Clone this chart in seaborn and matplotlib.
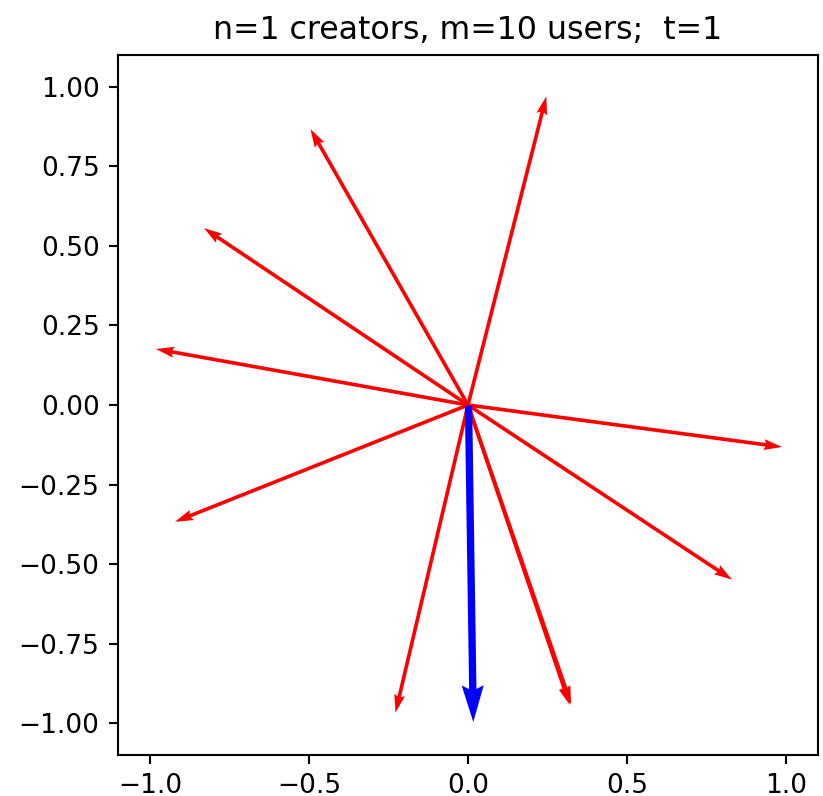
import matplotlib
matplotlib.use("Agg")
import matplotlib.pyplot as plt
import seaborn as sns
import pandas as pd

# user preference vectors (red) and the single creator vector (blue)
user_x = [0.246, -0.495, -0.830, -0.981, 0.987, -0.921, 0.830, -0.228, 0.320, 0.324]
user_y = [0.970, 0.867, 0.556, 0.176, -0.132, -0.367, -0.549, -0.967, -0.943, -0.940]
creator_x = [0.015]
creator_y = [-0.995]

title = "n=1 creators, m=10 users;  t=1"

sns.set_style("ticks", {
    "axes.edgecolor": "black",
    "xtick.color": "black",
    "ytick.color": "black",
    "text.color": "black",
    "axes.labelcolor": "black",
    "axes.spines.top": True,
    "axes.spines.right": True,
})
plt.rcParams["font.family"] = ["DejaVu Sans"]
plt.rcParams["font.size"] = 10
plt.rcParams["axes.titlesize"] = 12

users = pd.DataFrame({"x": user_x, "y": user_y})
creators = pd.DataFrame({"x": creator_x, "y": creator_y})

dpi = 190
fig = plt.figure(figsize=(823 / dpi, 796 / dpi), dpi=dpi)
ax = fig.add_axes([118 / 823, 1 - 755 / 796, 700 / 823, 700 / 796])

ax.quiver([0] * len(users), [0] * len(users), users["x"], users["y"],
          angles="xy", scale_units="xy", scale=1, color="red", width=0.0052)
ax.quiver([0] * len(creators), [0] * len(creators), creators["x"], creators["y"],
          angles="xy", scale_units="xy", scale=1, color="blue", width=0.0105)

ax.set_xlim(-1.1, 1.1)
ax.set_ylim(-1.1, 1.1)
ax.set_aspect("equal")
ax.set_xticks([-1.0, -0.5, 0.0, 0.5, 1.0])
ax.set_yticks([-1.0, -0.75, -0.5, -0.25, 0.0, 0.25, 0.5, 0.75, 1.0])
ax.tick_params(direction="out", length=3.5, width=0.8)
for s in ax.spines.values():
    s.set_linewidth(0.8)
ax.set_title(title)

fig.savefig("out.png", dpi=dpi)
